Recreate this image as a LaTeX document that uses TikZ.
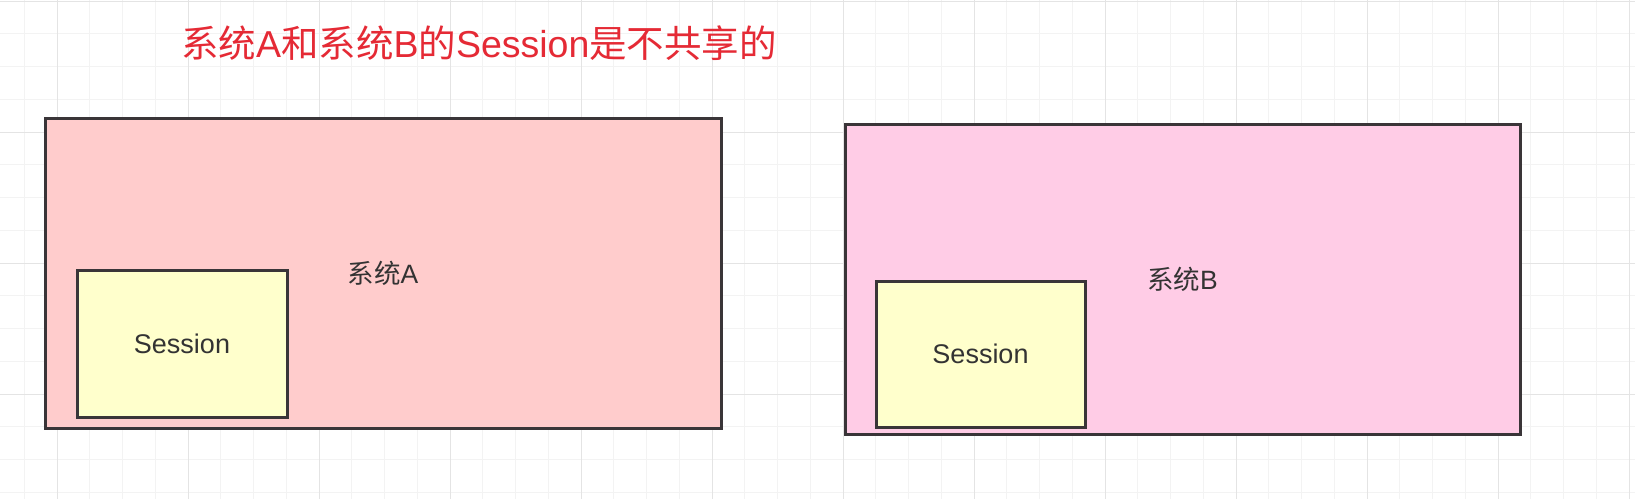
\documentclass[tikz,border=0pt]{standalone}
\usepackage{fontspec}
\setmainfont{Liberation Sans}
\newfontfamily\cjk{Noto Sans CJK SC}
\usetikzlibrary{positioning}

\definecolor{gridminor}{HTML}{F3F3F3}
\definecolor{gridmajor}{HTML}{E4E4E4}
\definecolor{sysAfill}{HTML}{FFCCCC}
\definecolor{sysBfill}{HTML}{FFCCE6}
\definecolor{sessfill}{HTML}{FFFFCC}
\definecolor{edgegray}{HTML}{3A3538}
\definecolor{labelgray}{HTML}{333333}
\definecolor{titlered}{HTML}{E52A35}

\tikzset{
    sysbox/.style={draw=edgegray,line width=3pt,inner sep=0pt,
        minimum width=676pt,minimum height=310pt,
        text=labelgray,font=\fontsize{26.5}{30}\selectfont},
    sessbox/.style={draw=edgegray,line width=3pt,fill=sessfill,inner sep=0pt,
        minimum width=210pt,minimum height=147pt,
        text=labelgray,font=\fontsize{27}{31}\selectfont},
}

\begin{document}
\begin{tikzpicture}[x=1pt,y=-1pt]
    \useasboundingbox (0,0) rectangle (1635,499);
    \fill [white] (0,0) rectangle (1635,499);
    % Grid
    \foreach \i in {0,...,49}
        \draw [gridminor,line width=1pt] (24.25+32.75*\i,0) -- (24.25+32.75*\i,499);
    \foreach \j in {1,...,15}
        \draw [gridminor,line width=1pt] (0,1+32.75*\j) -- (1635,1+32.75*\j);
    \foreach \i in {1,5,...,49}
        \draw [gridmajor,line width=1pt] (24.25+32.75*\i,0) -- (24.25+32.75*\i,499);
    \foreach \j in {0,4,...,12}
        \draw [gridmajor,line width=1pt] (0,1+32.75*\j) -- (1635,1+32.75*\j);
    % Title
    \node (title) at (479,43) [text=titlered,font=\fontsize{37.5}{42}\selectfont]
        {{\cjk 系统}A{\cjk 和系统}B{\cjk 的}Session{\cjk 是不共享的}};
    % System A
    \node (sysA) at (383,273) [sysbox,fill=sysAfill] {{\cjk 系统}A};
    \node (sessA) at (182,343.5) [sessbox] {Session};
    % System B
    \node (sysB) at (1182.5,279) [sysbox,fill=sysBfill,minimum width=675pt] {{\cjk 系统}B};
    \node (sessB) at (980.5,354) [sessbox,minimum width=209pt,minimum height=146pt] {Session};
\end{tikzpicture}
\end{document}
